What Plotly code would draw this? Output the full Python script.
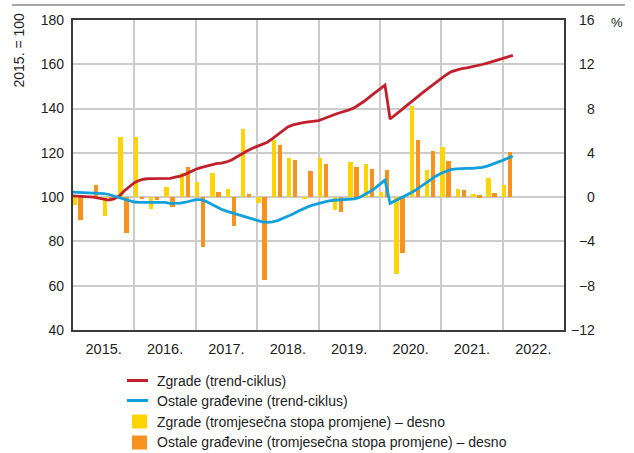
import plotly.graph_objects as go

# ---------------- data ----------------
years = [2015, 2016, 2017, 2018, 2019, 2020, 2021, 2022]
year_labels = ["2015.", "2016.", "2017.", "2018.", "2019.", "2020.", "2021.", "2022."]

# quarterly rates of change, Q1 2015 - Q1 2022 (right axis, %)
quarters = [f"{y}Q{q}" for y in range(2015, 2023) for q in range(1, 5)][:29]
zgrade_q = [-0.7, 0.0, -1.7, 5.45, 5.45, -1.05, 0.9, 2.2, 1.4, 2.2, 0.7, 6.2,
            -0.5, 5.15, 3.5, -0.15, 3.55, -1.15, 3.15, 3.0, 0.5, -6.95, 8.2,
            2.45, 4.55, 0.7, 0.3, 1.7, 1.1]
ostale_q = [-2.1, 1.1, -0.2, -3.2, -0.1, -0.3, -0.85, 2.7, -4.5, 0.5, -2.6, 0.3,
            -7.5, 4.7, 3.35, 2.4, 3.0, -1.35, 2.7, 2.5, 2.45, -5.0, 5.15, 4.15,
            3.3, 0.65, 0.15, 0.35, 4.05]

# monthly trend-cycle, Jan 2015 - Mar 2022 (left axis, 2015 = 100)
months = [f"{y}-{m:02d}" for y in range(2015, 2023) for m in range(1, 13)][:87]
zgrade_tc = [100.6, 100.5, 100.3, 100.1, 100.0, 99.5, 99.0, 98.7, 99.2, 100.4,
             102.8, 104.8, 106.5, 107.6, 108.2, 108.4, 108.5, 108.5, 108.5, 108.5,
             109.0, 109.5, 110.4, 111.6, 112.6, 113.3, 114.0, 114.7, 115.1, 115.4,
             115.9, 116.8, 118.2, 119.6, 120.8, 122.0, 123.0, 123.8, 124.8, 126.4,
             128.3, 130.2, 131.7, 132.6, 133.2, 133.6, 134.0, 134.3, 134.6, 135.4,
             136.4, 137.2, 138.0, 138.6, 139.4, 140.4, 141.8, 143.4, 145.3, 147.2,
             149.0, 150.6, 135.3, 137.0, 139.0, 140.9, 142.9, 144.7, 146.5, 148.3,
             150.1, 152.0, 153.8, 155.3, 156.7, 157.5, 158.0, 158.4, 158.8, 159.3,
             159.9, 160.5, 161.2, 161.8, 162.4, 163.2, 164.0]
ostale_tc = [102.3, 102.2, 102.1, 102.0, 102.0, 101.8, 101.6, 101.2, 100.6, 99.9,
             99.1, 98.4, 97.8, 97.6, 97.6, 97.7, 97.9, 97.9, 97.6, 97.2,
             97.1, 97.3, 97.7, 98.4, 98.9, 98.9, 98.1, 96.9, 95.6, 94.5,
             93.7, 93.0, 92.3, 91.6, 90.8, 90.0, 89.3, 88.8, 88.6, 88.8,
             89.4, 90.3, 91.3, 92.4, 93.6, 94.7, 95.7, 96.5, 97.2, 97.8,
             98.3, 98.6, 98.8, 98.9, 99.0, 99.2, 99.9, 101.0, 102.4, 104.0,
             105.8, 107.7, 97.2, 98.3, 99.4, 100.6, 101.9, 103.2, 104.8, 106.3,
             108.0, 109.6, 110.8, 111.8, 112.5, 112.8, 113.0, 113.0, 113.0, 113.1,
             113.4, 114.0, 114.8, 115.7, 116.6, 117.6, 118.5]

left_ticks = [40, 60, 80, 100, 120, 140, 160, 180]
right_ticks = [-12, -8, -4, 0, 4, 8, 12, 16]

names = ["Zgrade (trend-ciklus)", "Ostale građevine (trend-ciklus)",
         "Zgrade (tromjesečna stopa promjene) – desno",
         "Ostale građevine (tromjesečna stopa promjene) – desno"]

# ---------------- style ----------------
RED = "#C0202B"
BLUE = "#12A0DC"
YELLOW = "#FFD400"
ORANGE = "#F7921E"
GRID = "#CCCCCC"
FRAME = "#3A3A3A"
TXT = "#1E1E1E"
FONT = "Liberation Sans, Arial, sans-serif"

W, H = 634, 453
L, R, T, B = 73, 70, 20, 123
PW, PH = W - L - R, H - T - B


def px(x):
    return (x - L) / PW


def py(y):
    return (H - B - y) / PH


def qx(q, off):
    y, n = int(q[:4]), int(q[-1])
    return y + (n - 1) * 0.25 + off


def mx(m):
    y, n = int(m[:4]), int(m[5:])
    return y + (n - 1) / 12


fig = go.Figure()
bw = 0.072
fig.add_trace(go.Bar(x=[qx(q, 0.022) for q in quarters], y=zgrade_q, width=bw,
                     marker=dict(color=YELLOW, line=dict(width=0)), name=names[2],
                     yaxis="y", showlegend=False))
fig.add_trace(go.Bar(x=[qx(q, 0.120) for q in quarters], y=ostale_q, width=bw,
                     marker=dict(color=ORANGE, line=dict(width=0)), name=names[3],
                     yaxis="y", showlegend=False))
fig.add_trace(go.Scatter(x=[mx(m) for m in months], y=zgrade_tc, mode="lines",
                         line=dict(color=RED, width=2.8), name=names[0],
                         yaxis="y2", showlegend=False))
fig.add_trace(go.Scatter(x=[mx(m) for m in months], y=ostale_tc, mode="lines",
                         line=dict(color=BLUE, width=2.8), name=names[1],
                         yaxis="y2", showlegend=False))

shapes = [dict(type="line", xref="paper", yref="paper", x0=px(12), x1=px(625),
               y0=py(5), y1=py(5), line=dict(color="#8A8A8A", width=1.5))]
annotations = []

# right-axis tick labels (right aligned)
for v in right_ticks:
    annotations.append(dict(x=px(597), xref="paper", y=v, yref="y",
                            text=str(v).replace("-", "\u2212"), showarrow=False,
                            xanchor="right", yanchor="middle",
                            font=dict(family=FONT, size=14, color=TXT)))
annotations.append(dict(x=px(617), xref="paper", y=py(23), yref="paper", text="%",
                        showarrow=False, xanchor="center", yanchor="middle",
                        font=dict(family=FONT, size=13, color=TXT)))
annotations.append(dict(x=px(18), xref="paper", y=py(50.5), yref="paper",
                        text="2015. = 100", textangle=-90, showarrow=False,
                        xanchor="center", yanchor="middle",
                        font=dict(family=FONT, size=14, color=TXT)))

# legend
leg_y = [380.5, 400.5, 421.5, 442.5]
for i, (nm, col) in enumerate(zip(names, [RED, BLUE, YELLOW, ORANGE])):
    if i < 2:
        shapes.append(dict(type="line", xref="paper", yref="paper", x0=px(127),
                           x1=px(148), y0=py(leg_y[i]), y1=py(leg_y[i]),
                           line=dict(color=col, width=3)))
    else:
        shapes.append(dict(type="rect", xref="paper", yref="paper", x0=px(132),
                           x1=px(147), y0=py(leg_y[i] - 7), y1=py(leg_y[i] + 7),
                           fillcolor=col, line=dict(width=0)))
    annotations.append(dict(x=px(155), xref="paper", y=py(leg_y[i]), yref="paper",
                            text=nm, showarrow=False, xanchor="left",
                            yanchor="middle",
                            font=dict(family=FONT, size=14, color=TXT)))

fig.update_layout(
    width=W, height=H, margin=dict(l=L, r=R, t=T, b=B, pad=0),
    paper_bgcolor="white", plot_bgcolor="white",
    barmode="overlay", bargap=0,
    font=dict(family=FONT, size=14, color=TXT),
    shapes=shapes, annotations=annotations,
    xaxis=dict(range=[2015, 2023], tickvals=[y + 0.5 for y in years],
               ticktext=year_labels, showgrid=False, zeroline=False,
               ticks="", ticklabelstandoff=5,
               tickfont=dict(family=FONT, size=14.5, color=TXT),
               showline=True, linecolor=FRAME, linewidth=1.5, mirror=True,
               minor=dict(tickvals=years[1:], showgrid=True, gridcolor=GRID,
                          gridwidth=1.5, ticks="")),
    yaxis=dict(range=[-12, 16], tickvals=right_ticks, side="right",
               showgrid=True, gridcolor=GRID, gridwidth=1.5, zeroline=False,
               showticklabels=False, ticks="",
               showline=True, linecolor=FRAME, linewidth=1.5, mirror=True),
    yaxis2=dict(range=[40, 180], tickvals=left_ticks, side="left",
                overlaying="y", showgrid=False, zeroline=False, ticks="",
                ticklabelstandoff=8,
                tickfont=dict(family=FONT, size=14, color=TXT),
                showline=False),
)

fig.write_html("out.html",
               config={"displayModeBar": False},
               post_script="document.body.style.margin='0px';"
                           "document.body.style.overflow='hidden';")
